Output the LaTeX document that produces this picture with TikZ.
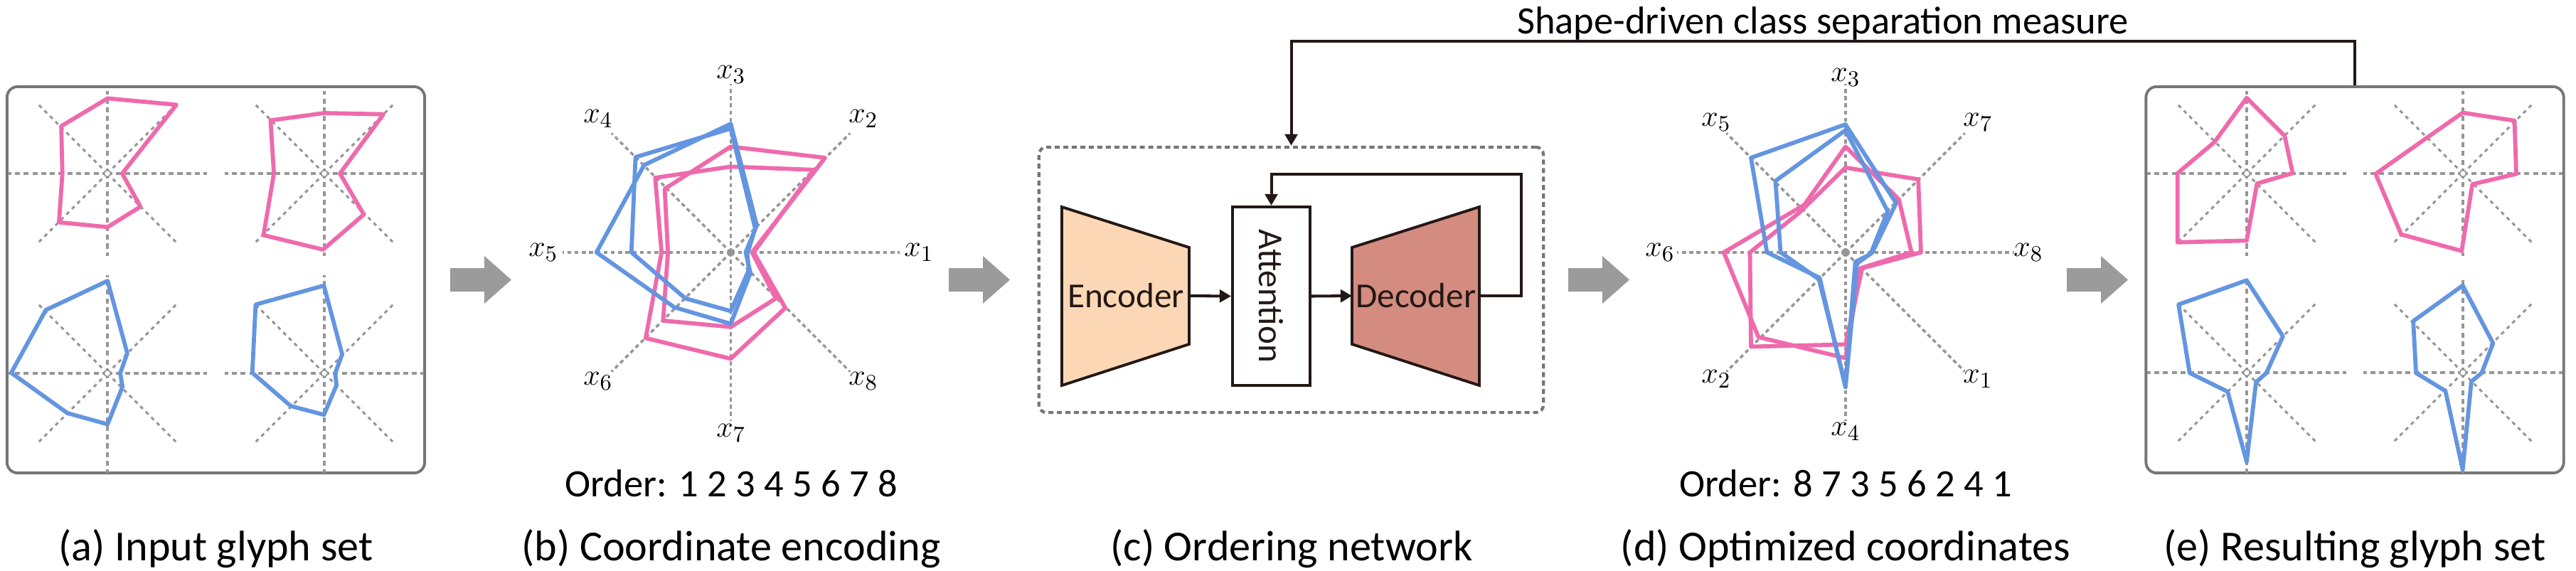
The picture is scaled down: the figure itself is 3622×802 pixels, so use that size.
\documentclass[tikz,border=0pt]{standalone}
\usepackage{fontspec}
\setmainfont{Carlito}
\usetikzlibrary{arrows.meta}
\definecolor{pinkc}{RGB}{239,106,172}
\definecolor{bluec}{RGB}{100,149,224}
\definecolor{axgray}{RGB}{150,150,150}
\definecolor{boxgray}{RGB}{118,118,118}
\definecolor{encfill}{RGB}{251,215,182}
\definecolor{decfill}{RGB}{212,140,128}
\definecolor{ink}{RGB}{35,24,21}
\definecolor{arrgray}{RGB}{155,155,155}
\newcommand\GlyphAxes[4]{%
  \draw[axhv] (#1,#2) -- ++(140,0);
  \draw[axhv] (#1,#2) -- ++(-140,0);
  \draw[axhv] (#1,#2) -- ++(0,-#3);
  \draw[axhv] (#1,#2) -- ++(0,#4);
  \draw[axdg] (#1,#2) -- ++(99,99);
  \draw[axdg] (#1,#2) -- ++(-99,99);
  \draw[axdg] (#1,#2) -- ++(99,-99);
  \draw[axdg] (#1,#2) -- ++(-99,-99);
  \fill[white] (#1,#2) circle[radius=1pt];
}
\newcommand\BigArrow[1]{%
  \fill[arrgray] (#1,377) -- ++(48,0) -- ++(0,-17) -- ++(38,33.5) -- ++(-38,33.5) -- ++(0,-17) -- ++(-48,0) -- cycle;
}
\tikzset{
  glyphline/.style={line width=1.65pt, line join=round},
  pinkg/.style={glyphline, draw=pinkc},
  blueg/.style={glyphline, draw=bluec},
  axhv/.style={draw=axgray, line width=1.2pt, dash pattern=on 2pt off 1.5pt},
  axdg/.style={draw=axgray, line width=0.85pt, dash pattern=on 1.5pt off 1.6pt},
  axb/.style={draw=axgray, line width=1pt, dash pattern=on 1.6pt off 1.3pt},
  glyphbox/.style={draw=boxgray, line width=1.1pt, rounded corners=4.3pt, minimum width=5.87cm, minimum height=5.43cm, inner sep=0pt},
  netbox/.style={draw=boxgray, line width=1.2pt, dash pattern=on 2pt off 1.4pt, rounded corners=3pt, minimum width=7.09cm, minimum height=3.73cm, inner sep=0pt},
  conn/.style={draw=ink, line width=1.15pt, -{Triangle[length=4.6pt,width=5pt]}},
  capt/.style={font=\fontsize{17.1pt}{20pt}\selectfont, anchor=base, inner sep=0pt},
  ordtxt/.style={font=\fontsize{15.5pt}{18pt}\selectfont, anchor=base, inner sep=0pt},
  toplab/.style={font=\fontsize{15.5pt}{18pt}\selectfont, anchor=base, inner sep=0pt},
  netlab/.style={font=\fontsize{14pt}{16pt}\selectfont, inner sep=0pt, text=ink},
  mlab/.style={font=\fontsize{12.9pt}{14pt}\selectfont, inner sep=0pt},
}
\begin{document}
\begin{tikzpicture}[x=0.01cm, y=-0.01cm]
\useasboundingbox (0,0) rectangle (3622,802);

% ---------- (a) input glyph set ----------
\node[glyphbox] (boxA) at (303.5,393.5) {};
\GlyphAxes{151}{244}{116}{116}
\GlyphAxes{456}{244}{116}{116}
\GlyphAxes{151}{525}{138}{140}
\GlyphAxes{456}{525}{138}{140}
\begin{scope}[shift={(0,120)}, xscale=0.395, yscale=0.3333]
\draw[pinkg] (383,55) -- (628,82) -- (435,372) -- (500,512) -- (383,598) -- (210,578) -- (222,372) -- (218,172) -- cycle;
\draw[pinkg] (1153,117) -- (1365,122) -- (1210,372) -- (1295,545) -- (1150,693) -- (938,632) -- (975,372) -- (963,148) -- cycle;
\draw[blueg] (383,825) -- (453,1130) -- (428,1215) -- (436,1272) -- (383,1430) -- (240,1383) -- (40,1213) -- (163,948) -- cycle;
\draw[blueg] (1153,845) -- (1218,1135) -- (1193,1215) -- (1198,1265) -- (1153,1390) -- (1035,1353) -- (898,1213) -- (910,925) -- cycle;
\end{scope}

\BigArrow{633}

% ---------- (b) coordinate encoding ----------
\foreach \a in {0,45,...,315} \draw[axb] (1027.5,355) -- +(\a:237);
\begin{scope}[shift={(640,0)}, scale=0.4464]
\draw[pinkg] (868,525) -- (1130,535) -- (940,795) -- (1040,970) -- (868,1130) -- (600,1065) -- (650,795) -- (630,560) -- cycle;
\draw[pinkg] (868,462) -- (1165,497) -- (935,795) -- (1010,940) -- (868,1030) -- (655,1010) -- (670,795) -- (660,595) -- cycle;
\draw[blueg] (868,390) -- (950,710) -- (915,795) -- (930,860) -- (868,1020) -- (690,968) -- (445,795) -- (595,520) -- cycle;
\draw[blueg] (868,405) -- (945,720) -- (920,800) -- (925,850) -- (868,980) -- (725,940) -- (555,795) -- (568,495) -- cycle;
\end{scope}
\node[mlab] (b1) at (1292,355) {$x_1$};
\node[mlab] (b2) at (1214,167) {$x_2$};
\node[mlab] (b3) at (1028,105) {$x_3$};
\node[mlab] (b4) at (841,167) {$x_4$};
\node[mlab] (b5) at (764,355) {$x_5$};
\node[mlab] (b6) at (841,536) {$x_6$};
\node[mlab] (b7) at (1028,609) {$x_7$};
\node[mlab] (b8) at (1214,536) {$x_8$};
\node[ordtxt] (ordb) at (1028,698) {Order: 1 2 3 4 5 6 7 8};

\BigArrow{1334}

% ---------- (c) ordering network ----------
\node[netbox] (net) at (1815.5,393.5) {};
\filldraw[fill=encfill, draw=ink, line width=1.1pt, line join=miter] (1493,291) -- (1672,348) -- (1672,484) -- (1493,542) -- cycle;
\filldraw[fill=decfill, draw=ink, line width=1.1pt, line join=miter] (2080,291) -- (1901,348) -- (1901,484) -- (2080,542) -- cycle;
\node[draw=ink, fill=white, line width=1.1pt, minimum width=1.09cm, minimum height=2.51cm, inner sep=0pt] (att) at (1787.5,416.5) {};
\node[netlab] (enc) at (1583,416) {Encoder};
\node[netlab] (dec) at (1991,416) {Decoder};
\node[netlab, rotate=-90] (attl) at (att.center) {Attention};
\coordinate (encR) at (1672,416);
\coordinate (decL) at (1901,416);
\coordinate (decR) at (2080,416);
\coordinate (loopR) at (2139,245);
\draw[conn] (encR) -- (att.west);
\draw[conn] (att.east) -- (decL);
\draw[conn] (decR) -| (loopR) -| (att.north);

\BigArrow{2205}

% ---------- (d) optimized coordinates ----------
\foreach \a in {0,45,...,315} \draw[axb] (2595,355) -- +(\a:237);
\begin{scope}[shift={(2200,0)}, xscale=0.478, yscale=0.4464]
\draw[pinkg] (826,462) -- (983,628) -- (1020,795) -- (870,845) -- (826,1128) -- (570,1062) -- (468,795) -- (705,645) -- cycle;
\draw[pinkg] (826,528) -- (1040,565) -- (1048,795) -- (875,845) -- (826,1085) -- (548,1092) -- (545,795) -- (690,670) -- cycle;
\draw[blueg] (826,392) -- (975,640) -- (905,795) -- (860,830) -- (826,1220) -- (750,875) -- (595,795) -- (548,497) -- cycle;
\draw[blueg] (826,410) -- (950,665) -- (900,800) -- (855,825) -- (826,1215) -- (748,880) -- (635,795) -- (620,570) -- cycle;
\end{scope}
\node[mlab] (d8) at (2852,355) {$x_8$};
\node[mlab] (d7) at (2781,172) {$x_7$};
\node[mlab] (d3) at (2595,109) {$x_3$};
\node[mlab] (d5) at (2413,172) {$x_5$};
\node[mlab] (d6) at (2334,355) {$x_6$};
\node[mlab] (d2) at (2413,533) {$x_2$};
\node[mlab] (d4) at (2595,607) {$x_4$};
\node[mlab] (d1) at (2781,533) {$x_1$};
\node[ordtxt] (ordd) at (2595,698) {Order: 8 7 3 5 6 2 4 1};

\BigArrow{2906}

% ---------- (e) resulting glyph set ----------
\node[glyphbox] (boxE) at (3311,393.5) {};
\GlyphAxes{3159}{244}{116}{116}
\GlyphAxes{3463}{244}{116}{116}
\GlyphAxes{3159}{524}{130}{141}
\GlyphAxes{3463}{524}{130}{141}
\begin{scope}[shift={(2860,20)}, scale=0.486]
\draw[pinkg] (615,242) -- (725,352) -- (748,460) -- (645,490) -- (615,655) -- (415,660) -- (415,460) -- (522,370) -- cycle;
\draw[pinkg] (1240,285) -- (1390,308) -- (1395,462) -- (1268,492) -- (1237,685) -- (1062,637) -- (988,462) -- (1137,357) -- cycle;
\draw[blueg] (615,770) -- (720,932) -- (672,1038) -- (642,1065) -- (615,1295) -- (560,1092) -- (450,1038) -- (418,840) -- cycle;
\draw[blueg] (1240,785) -- (1328,952) -- (1295,1038) -- (1265,1063) -- (1240,1318) -- (1190,1090) -- (1105,1038) -- (1097,888) -- cycle;
\end{scope}

% ---------- feedback connector ----------
\draw[conn] (boxE.north) -- ++(0,-62) -| (net.north);
\node[toplab] (sdcsm) at (2563,47) {Shape-driven class separation measure};

% ---------- captions ----------
\node[capt] (capa) at (303.5,788) {(a) Input glyph set};
\node[capt] (capb) at (1028,788) {(b) Coordinate encoding};
\node[capt] (capc) at (1816,788) {(c) Ordering network};
\node[capt] (capd) at (2595,788) {(d) Optimized coordinates};
\node[capt] (cape) at (3311,788) {(e) Resulting glyph set};
\end{tikzpicture}
\end{document}
